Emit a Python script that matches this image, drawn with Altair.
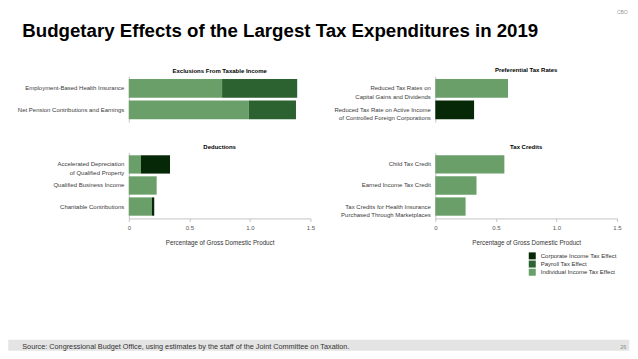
import altair as alt
import pandas as pd

FONT = "Liberation Sans"

IND = "Individual Income Tax Effect"
PAY = "Payroll Tax Effect"
CORP = "Corporate Income Tax Effect"
effect_domain = [CORP, PAY, IND]
effect_colors = ["#062806", "#2c6130", "#6a9f6a"]

# Panel data (percentage of GDP)
excl_cats = ["Employment-Based Health Insurance", "Net Pension Contributions and Earnings"]
excl_ind = [0.77, 0.99]
excl_pay = [0.62, 0.39]
excl_corp = [0.0, 0.0]

pref_cats = ["Reduced Tax Rates on|Capital Gains and Dividends",
             "Reduced Tax Rate on Active Income|of Controlled Foreign Corporations"]
pref_ind = [0.60, 0.0]
pref_pay = [0.0, 0.0]
pref_corp = [0.0, 0.32]

ded_cats = ["Accelerated Depreciation|of Qualified Property", "Qualified Business Income",
            "Charitable Contributions"]
ded_ind = [0.10, 0.23, 0.19]
ded_pay = [0.0, 0.0, 0.0]
ded_corp = [0.24, 0.0, 0.02]

cred_cats = ["Child Tax Credit", "Earned Income Tax Credit",
             "Tax Credits for Health Insurance|Purchased Through Marketplaces"]
cred_ind = [0.57, 0.34, 0.25]
cred_pay = [0.0, 0.0, 0.0]
cred_corp = [0.0, 0.0, 0.0]

x_ticks = [0, 0.5, 1.0, 1.5]

main_title = "Budgetary Effects of the Largest Tax Expenditures in 2019"
source_text = "Source: Congressional Budget Office, using estimates by the staff of the Joint Committee on Taxation."

# origin of the top-left plot on the page
OX, OY = 128.7, 76.0


def rel(px, py):
    return px - OX, py - OY


legend = alt.Legend(
    orient="none", legendX=400.6, legendY=176.5, title=None,
    symbolType="square", symbolSize=49, symbolStrokeWidth=0,
    labelFont=FONT, labelFontSize=6, labelColor="#333333",
    labelOffset=5, rowPadding=1.2, padding=0,
)


def panel(title, cats, ind, pay, corp, height, show_x):
    rows = []
    for c, a, b, d in zip(cats, ind, pay, corp):
        for eff, v, o in ((IND, a, 0), (PAY, b, 1), (CORP, d, 2)):
            if v > 0:
                rows.append({"cat": c, "effect": eff, "value": v, "ord": o})
    df = pd.DataFrame(rows)
    if show_x:
        x_axis = alt.Axis(
            values=x_ticks, labelExpr="datum.value == 0 ? '0' : format(datum.value, '.1f')",
            title="Percentage of Gross Domestic Product", grid=False,
            domainColor="#c4c4c4", tickColor="#c4c4c4", tickSize=3,
            labelFont=FONT, labelFontSize=6, labelColor="#555555", labelPadding=3,
            labelFlush=False,
            titleFont=FONT, titleFontSize=6.3, titleFontWeight="normal",
            titleColor="#333333", titlePadding=9,
        )
    else:
        x_axis = None
    bars = alt.Chart(df).mark_bar().encode(
        x=alt.X("value:Q", stack="zero",
                scale=alt.Scale(domain=[0, 1.5], nice=False), axis=x_axis),
        y=alt.Y("cat:N", sort=cats,
                scale=alt.Scale(paddingInner=0.13, paddingOuter=0.13),
                axis=alt.Axis(title=None, labelExpr="split(datum.label, '|')",
                              ticks=False, domainColor="#c4c4c4",
                              labelFont=FONT, labelFontSize=6, labelColor="#3a3a3a",
                              labelPadding=5, labelLineHeight=8.3, labelLimit=200)),
        color=alt.Color("effect:N",
                        scale=alt.Scale(domain=effect_domain, range=effect_colors),
                        legend=legend),
        order=alt.Order("ord:Q"),
    )
    props = dict(width=182, height=height)
    if title:
        props["title"] = alt.TitleParams(title, font=FONT, fontSize=6,
                                         fontWeight="bold", color="#000000",
                                         offset=3, anchor="middle")
    return bars, props


def text_layer(txt, px, py, size, color, weight="normal", align="left"):
    x, y = rel(px, py)
    return alt.Chart(pd.DataFrame({"t": [txt]})).mark_text(
        font=FONT, fontSize=size, color=color, fontWeight=weight,
        align=align, baseline="middle",
    ).encode(text="t:N", x=alt.value(x), y=alt.value(y))


b0, p0 = panel(None, excl_cats, excl_ind, excl_pay, excl_corp, 46, False)
b1, p1 = panel("Preferential Tax Rates", pref_cats, pref_ind, pref_pay, pref_corp, 46, False)
b2, p2 = panel("Deductions", ded_cats, ded_ind, ded_pay, ded_corp, 66, True)
b3, p3 = panel("Tax Credits", cred_cats, cred_ind, cred_pay, cred_corp, 66, True)

# page frame and decorations, positioned relative to the first panel
bx0, by0 = rel(8, 8)
bx1, by1 = rel(630, 351)
frame = alt.Chart(pd.DataFrame({"k": [0]})).mark_rect(opacity=0).encode(
    x=alt.value(bx0), x2=alt.value(bx1), y=alt.value(by0), y2=alt.value(by1))
fy0 = rel(0, 340)[1]
footer = alt.Chart(pd.DataFrame({"k": [0]})).mark_rect(color="#e4e4e4").encode(
    x=alt.value(bx0), x2=alt.value(bx1), y=alt.value(fy0), y2=alt.value(by1))

tx, ty = rel(22, 37)
title_mark = alt.Chart(pd.DataFrame({"t": [main_title]})).mark_text(
    font=FONT, fontSize=18.7, fontWeight="bold", color="#000000",
    align="left", baseline="alphabetic",
).encode(text="t:N", x=alt.value(tx), y=alt.value(ty))

panel0_title = text_layer("Exclusions From Taxable Income", OX + 91, 70.5, 6,
                          "#000000", weight="bold", align="center")
cbo = text_layer("CBO", 623, 12, 5, "#999999", align="center")
src = text_layer(source_text, 22, 346.8, 7.3, "#333333")
page_no = text_layer("26", 624, 346.8, 5.5, "#888888", align="center")

c0 = alt.layer(frame, footer, b0, title_mark, panel0_title, cbo, src, page_no).properties(**p0)
c1 = b1.properties(**p1)
c2 = b2.properties(**p2)
c3 = b3.properties(**p3)

chart = alt.concat(c0, c1, c2, c3, columns=2).properties(
    spacing={"row": 30.5, "column": 125},
    bounds="flush", align="each", padding=0,
).configure(font=FONT).configure_view(stroke=None).configure_concat(spacing=10)

chart.save("out.html", embed_options={"renderer": "svg", "actions": False})
